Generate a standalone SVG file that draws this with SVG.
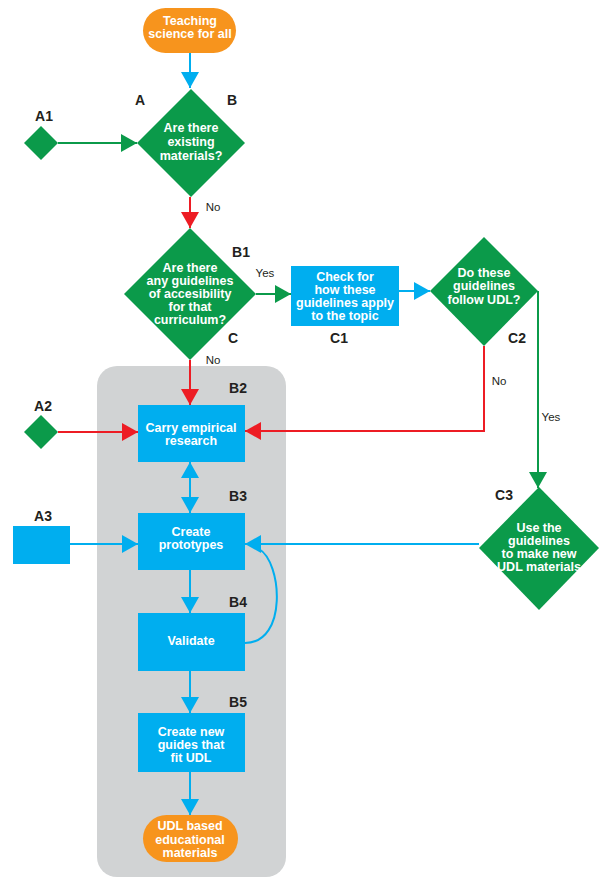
<svg xmlns="http://www.w3.org/2000/svg" width="603" height="879" viewBox="0 0 603 879">
<defs>
<style>
.bg{fill:#d1d3d4}
.term{fill:#f7941d}
.dia{fill:#0b9a4a}
.box{fill:#00aeef}
.t{font-family:"Liberation Sans",Arial,sans-serif;font-weight:bold;font-size:12.5px;fill:#ffffff;text-anchor:middle}
.lbl{font-family:"Liberation Sans",Arial,sans-serif;font-weight:bold;font-size:14px;fill:#231f20;text-anchor:middle}
.yn{font-family:"Liberation Sans",Arial,sans-serif;font-size:11.5px;fill:#231f20;text-anchor:middle}
.cb{fill:none;stroke:#00aeef;stroke-width:2}
.cr{fill:none;stroke:#ed1c24;stroke-width:2}
.cg{fill:none;stroke:#0b9a4a;stroke-width:2}
</style>
<marker id="ab" viewBox="0 0 16 18" refX="16" refY="9" markerWidth="16" markerHeight="18" markerUnits="userSpaceOnUse" orient="auto-start-reverse"><path d="M0,0 L16,9 L0,18 z" fill="#00aeef"/></marker>
<marker id="ar" viewBox="0 0 16 18" refX="16" refY="9" markerWidth="16" markerHeight="18" markerUnits="userSpaceOnUse" orient="auto"><path d="M0,0 L16,9 L0,18 z" fill="#ed1c24"/></marker>
<marker id="ag" viewBox="0 0 16 18" refX="16" refY="9" markerWidth="16" markerHeight="18" markerUnits="userSpaceOnUse" orient="auto"><path d="M0,0 L16,9 L0,18 z" fill="#0b9a4a"/></marker>
</defs>

<rect id="group-B" class="bg" x="97" y="366" width="189" height="511" rx="20"/>

<g id="connectors">
<path class="cb" d="M190,53 L190,88" marker-end="url(#ab)"/>
<path class="cg" d="M58,143 L137,143" marker-end="url(#ag)"/>
<path class="cr" d="M190,197 L190,228" marker-end="url(#ar)"/>
<path class="cg" d="M256,294 L291,294" marker-end="url(#ag)"/>
<path class="cb" d="M399,291 L430,291" marker-end="url(#ab)"/>
<path class="cr" d="M484,346 L484,431 L245,431" marker-end="url(#ar)"/>
<path class="cg" d="M538,291 L538,488" marker-end="url(#ag)"/>
<path class="cr" d="M190,360 L190,405" marker-end="url(#ar)"/>
<path class="cr" d="M58,432 L138,432" marker-end="url(#ar)"/>
<path class="cb" d="M190,462 L190,513" marker-start="url(#ab)" marker-end="url(#ab)"/>
<path class="cb" d="M70,544 L138,544" marker-end="url(#ab)"/>
<path class="cb" d="M479,544 L245,544" marker-end="url(#ab)"/>
<path class="cb" d="M190,570 L190,613" marker-end="url(#ab)"/>
<path class="cb" d="M245,643 C288,643 282,562 259,549"/>
<path class="cb" d="M190,671 L190,713" marker-end="url(#ab)"/>
<path class="cb" d="M190,772 L190,815" marker-end="url(#ab)"/>
</g>

<g id="start">
<rect class="term" x="143" y="8" width="93" height="45" rx="22.5"/>
<text class="t" x="190" y="25">Teaching</text>
<text class="t" x="190" y="38">science for all</text>
</g>

<g id="A">
<polygon class="dia" points="191,89 245,143 191,197 137,143"/>
<text class="t" x="191" y="132">Are there</text>
<text class="t" x="191" y="146">existing</text>
<text class="t" x="191" y="160">materials?</text>
<text class="lbl" x="140" y="105">A</text>
<text class="lbl" x="232" y="105">B</text>
</g>

<g id="A1">
<polygon class="dia" points="41,126 58,143 41,160 24,143"/>
<text class="lbl" x="44" y="121">A1</text>
</g>

<g id="B1">
<polygon class="dia" points="190,228 256,294 190,360 124,294"/>
<text class="t" x="190" y="272">Are there</text>
<text class="t" x="190" y="285">any guidelines</text>
<text class="t" x="190" y="298">of accesibility</text>
<text class="t" x="190" y="311">for that</text>
<text class="t" x="190" y="324">curriculum?</text>
<text class="lbl" x="241" y="257">B1</text>
<text class="lbl" x="233" y="343">C</text>
</g>

<g id="C1">
<rect class="box" x="291" y="266" width="108" height="60"/>
<text class="t" x="345" y="281">Check for</text>
<text class="t" x="345" y="294">how these</text>
<text class="t" x="345" y="307">guidelines apply</text>
<text class="t" x="345" y="320">to the topic</text>
<text class="lbl" x="339" y="343">C1</text>
</g>

<g id="C2">
<polygon class="dia" points="484,237 538,291 484,346 430,291"/>
<text class="t" x="484" y="277">Do these</text>
<text class="t" x="484" y="290">guidelines</text>
<text class="t" x="484" y="304">follow UDL?</text>
<text class="lbl" x="517" y="343">C2</text>
</g>

<g id="C3">
<polygon class="dia" points="539,487 599,548 539,610 479,548"/>
<text class="t" x="539" y="532">Use the</text>
<text class="t" x="539" y="545">guidelines</text>
<text class="t" x="539" y="558">to make new</text>
<text class="t" x="539" y="571">UDL materials</text>
<text class="lbl" x="504" y="500">C3</text>
</g>

<g id="A2">
<polygon class="dia" points="41,415 58,432 41,449 24,432"/>
<text class="lbl" x="43" y="411">A2</text>
</g>

<g id="A3">
<rect class="box" x="13" y="526" width="57" height="38"/>
<text class="lbl" x="43" y="521">A3</text>
</g>

<g id="B2">
<rect class="box" x="138" y="405" width="107" height="57"/>
<text class="t" x="191" y="432">Carry empirical</text>
<text class="t" x="191" y="445">research</text>
<text class="lbl" x="238" y="393">B2</text>
</g>

<g id="B3">
<rect class="box" x="138" y="513" width="107" height="57"/>
<text class="t" x="191" y="536">Create</text>
<text class="t" x="191" y="549">prototypes</text>
<text class="lbl" x="238" y="501">B3</text>
</g>

<g id="B4">
<rect class="box" x="138" y="613" width="107" height="58"/>
<text class="t" x="191" y="645">Validate</text>
<text class="lbl" x="238" y="607">B4</text>
</g>

<g id="B5">
<rect class="box" x="138" y="713" width="107" height="59"/>
<text class="t" x="191" y="736">Create new</text>
<text class="t" x="191" y="749">guides that</text>
<text class="t" x="191" y="762">fit UDL</text>
<text class="lbl" x="238" y="707">B5</text>
</g>

<g id="end">
<rect class="term" x="143" y="815" width="95" height="47" rx="23.5"/>
<text class="t" x="190" y="830">UDL based</text>
<text class="t" x="190" y="844">educational</text>
<text class="t" x="190" y="857">materials</text>
</g>

<g id="edge-labels">
<text class="yn" x="213" y="211">No</text>
<text class="yn" x="265" y="277">Yes</text>
<text class="yn" x="213" y="364">No</text>
<text class="yn" x="499" y="385">No</text>
<text class="yn" x="551" y="421">Yes</text>
</g>
</svg>
